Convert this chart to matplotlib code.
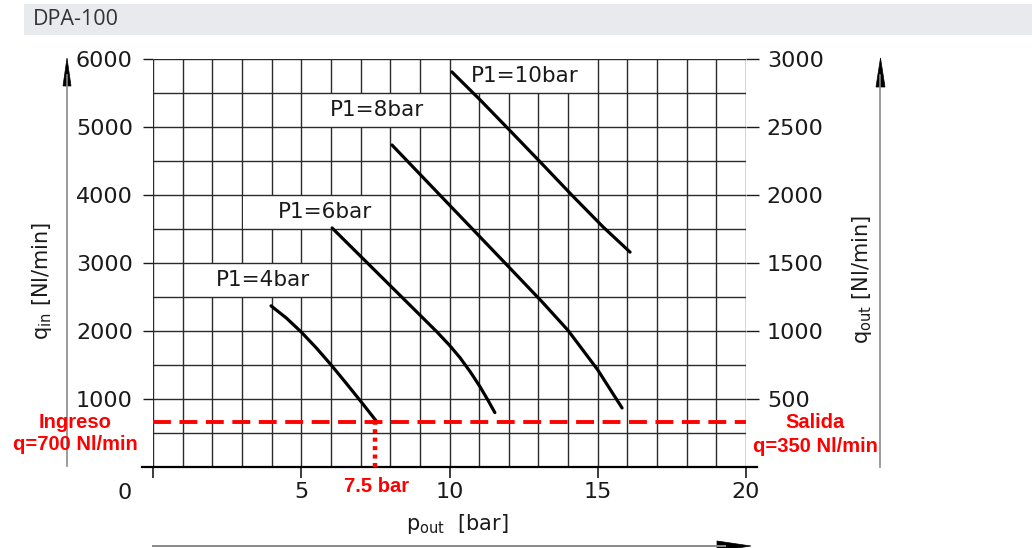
import matplotlib
matplotlib.use("Agg")
import matplotlib.pyplot as plt
import numpy as np
from matplotlib.patches import Rectangle, Polygon
from matplotlib.lines import Line2D
from matplotlib import transforms

# curves: p_out [bar] vs q_in [Nl/min]
p4_x = [3.98, 4.5, 5.0, 5.5, 6.0, 6.5, 7.0, 7.55]
p4_y = [2370, 2190, 1985, 1755, 1505, 1240, 970, 665]
p6_x = [6.04, 7.0, 8.06, 9.0, 9.58, 10.0, 10.35, 10.7, 11.03, 11.3, 11.53]
p6_y = [3515, 3100, 2642, 2236, 1985, 1790, 1610, 1400, 1180, 980, 800]
p8_x = [8.06, 9.0, 10.0, 11.0, 12.0, 13.12, 14.0, 15.0, 15.82]
p8_y = [4735, 4307, 3852, 3397, 2942, 2430, 2008, 1428, 868]
p10_x = [10.08, 11.03, 12.0, 13.05, 14.1, 15.18, 16.09]
p10_y = [5810, 5400, 4965, 4490, 4010, 3530, 3160]

curve_labels = ["P1=4bar", "P1=6bar", "P1=8bar", "P1=10bar"]
label_x = [3.71, 5.80, 7.55, 12.55]
label_y = [2750, 3750, 5250, 5750]
box_x = [(1.45, 5.95), (3.05, 7.95), (5.7, 9.95), (10.7, 14.9)]

q_line = 665       # red dashed line level (labelled q=700 Nl/min)
p_mark = 7.5       # red dotted marker

x_ticks = [0, 5, 10, 15, 20]
y_ticks = [1000, 2000, 3000, 4000, 5000, 6000]
y2_ticks = [500, 1000, 1500, 2000, 2500, 3000]

W, H = 1032, 548
fig = plt.figure(figsize=(W / 100, H / 100), dpi=100)

# helper: pixel coords (top-left origin) -> figure transform
px = transforms.Affine2D().scale(1 / W, -1 / H).translate(0, 1) + fig.transFigure

# header band
fig.add_artist(Rectangle((24, 4), 1010, 31, transform=px, facecolor="#e8eaed",
                         edgecolor="none", zorder=0))
fig.text(33, 19.5, "DPA-100", transform=px, fontsize=15.5, color="#333333",
         family="Open Sans", va="center", ha="left")

ax = fig.add_axes([153 / W, (H - 467) / H, 593 / W, 408 / H])
ax.set_xlim(0, 20)
ax.set_ylim(0, 6000)
for s in ax.spines.values():
    s.set_visible(False)

grid_c = "#2b2b2b"
ax.vlines(np.arange(0, 21), 0, 6000, color=grid_c, lw=1.0, zorder=1)
ax.hlines(np.arange(500, 6001, 500), 0, 20, color=grid_c, lw=1.0, zorder=3)
ax.plot([-0.37, 20.37], [0, 0], color="black", lw=1.6, clip_on=False, zorder=3)

# label boxes + labels
for lab, lx, ly, (b0, b1) in zip(curve_labels, label_x, label_y, box_x):
    ax.add_patch(Rectangle((b0, ly - 250), b1 - b0, 500, facecolor="white",
                           edgecolor="none", zorder=2))
    ax.text(lx, ly, lab, fontsize=15.5, color="#1a1a1a", ha="center", va="center",
            zorder=4)

for cx, cy in [(p4_x, p4_y), (p6_x, p6_y), (p8_x, p8_y), (p10_x, p10_y)]:
    ax.plot(cx, cy, color="black", lw=2.3, solid_capstyle="round",
            solid_joinstyle="round", zorder=5)

ax.plot([0, 20], [q_line, q_line], color="red", lw=2.8,
        linestyle=(0, (4.6, 2.2)), zorder=6)
ax.plot([p_mark, p_mark], [0, q_line], color="red", lw=3.2,
        linestyle=(0, (0.9, 1.0)), zorder=6)

tick_c = "#1a1a1a"
ax.set_xticks(x_ticks)
ax.set_xticklabels([""] + [str(t) for t in x_ticks[1:]])
ax.tick_params(axis="x", direction="out", length=8, width=1.2, pad=3,
               labelsize=16, colors=tick_c)
ax.set_yticks(y_ticks)
ax.set_yticklabels([str(t) for t in y_ticks])
ax.tick_params(axis="y", direction="out", length=7.5, width=1.0, pad=7,
               labelsize=16, colors=tick_c)
ax.text(-0.95, -0.064, "0", transform=transforms.blended_transform_factory(
    ax.transData, ax.transAxes), fontsize=16, color=tick_c, ha="center", va="center")

ax2 = ax.twinx()
ax2.set_ylim(0, 3000)
for s in ax2.spines.values():
    s.set_visible(False)
ax2.set_yticks(y2_ticks)
ax2.set_yticklabels([str(t) for t in y2_ticks])
ax2.tick_params(axis="y", direction="out", length=9, width=1.0, pad=6,
                labelsize=16, colors=tick_c)

# axis titles
fig.text(42, 281, r"q$_{\rm in}$ [Nl/min]", transform=px, rotation=90,
         fontsize=15, color=tick_c, ha="center", va="center")
fig.text(862, 280, r"q$_{\rm out}$ [Nl/min]", transform=px, rotation=90,
         fontsize=15, color=tick_c, ha="center", va="center")
fig.text(457, 524, r"p$_{\rm out}$  [bar]", transform=px,
         fontsize=15, color=tick_c, ha="center", va="center")

# arrows
arrow_c = "#8a8a8a"
fig.add_artist(Line2D([67, 67], [466, 75], transform=px, color=arrow_c, lw=1.2))
fig.add_artist(Polygon([[63, 86], [71, 86], [67, 58]], closed=True, transform=px,
                       facecolor="black", edgecolor="black", lw=0.5))
fig.add_artist(Line2D([880, 880], [467, 75], transform=px, color=arrow_c, lw=1.2))
fig.add_artist(Polygon([[876, 87], [885, 87], [880.5, 58]], closed=True, transform=px,
                       facecolor="black", edgecolor="black", lw=0.5))
fig.add_artist(Line2D([153, 725], [546, 546], transform=px, color=arrow_c, lw=1.4))
fig.add_artist(Polygon([[717, 541], [717, 551], [751, 546]], closed=True, transform=px,
                       facecolor="black", edgecolor="black", lw=0.5))

# red annotations
red_kw = dict(transform=px, color="red", fontsize=14.5, fontweight="bold",
              family="Liberation Sans", ha="center", va="center")
fig.text(75, 422, "Ingreso", **red_kw)
fig.text(75, 445, "q=700 Nl/min", **red_kw)
fig.text(815, 422, "Salida", **red_kw)
fig.text(815, 446, "q=350 Nl/min", **red_kw)
fig.text(377, 487, "7.5 bar", **red_kw)

fig.savefig("out.png", dpi=100)
